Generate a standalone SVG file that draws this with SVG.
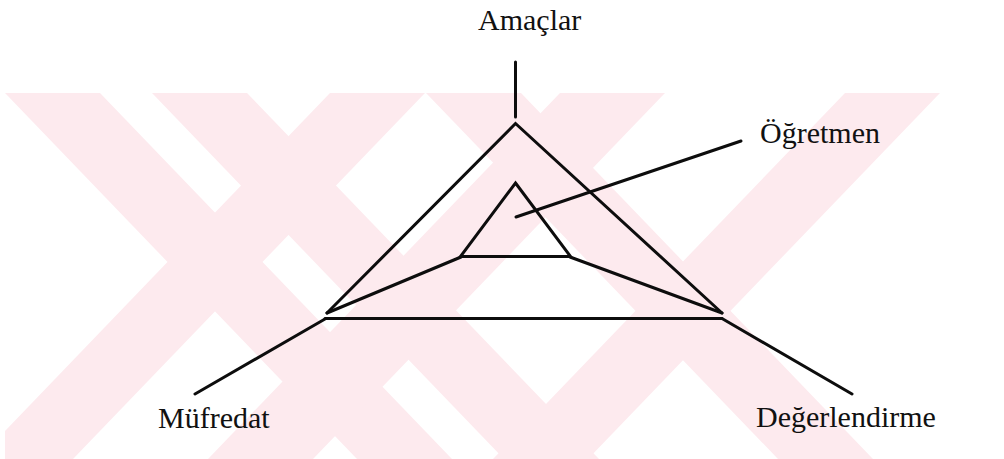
<svg xmlns="http://www.w3.org/2000/svg" width="1004" height="459" viewBox="0 0 1004 459">
  <style>
    .lbl { font-family: "Liberation Serif", "Times New Roman", serif; font-size: 30px; fill: #111; }
    .ln { stroke: #0d0d0d; stroke-width: 3; fill: none; stroke-linecap: round; stroke-linejoin: miter; }
    .wm { fill: #fdeaee; }
  </style>
  <defs>
    <clipPath id="wmclip"><rect x="5" y="93" width="995" height="366"/></clipPath>
  </defs>
  <rect width="1004" height="459" fill="#ffffff"/>
  <g id="watermark" clip-path="url(#wmclip)">
    <polygon class="wm" points="5,93 100,93 452,459 357,459"/>
    <polygon class="wm" points="152,93 247,93 599,459 504,459"/>
    <polygon class="wm" points="426,93 521,93 873,459 778,459"/>
    <polygon class="wm" points="560,93 665,93 313,459 208,459"/>
    <polygon class="wm" points="845,93 940,93 588,459 493,459"/>
    <polygon class="wm" points="330,93 425,93 73,459 -22,459"/>
  </g>
  <g id="connectors">
    <line class="ln" x1="515.5" y1="62" x2="515.5" y2="117"/>
    <line class="ln" x1="741" y1="141" x2="516" y2="217"/>
    <line class="ln" x1="325" y1="319" x2="195" y2="394"/>
    <line class="ln" x1="722" y1="318.5" x2="852" y2="394"/>
    <line class="ln" x1="461" y1="257" x2="327" y2="313"/>
    <line class="ln" x1="570" y1="257" x2="722" y2="313"/>
  </g>
  <g id="outer-triangle">
    <polyline class="ln" points="327,313 515.5,123.5 722,313"/>
    <line class="ln" x1="325" y1="318.5" x2="722" y2="318.5"/>
  </g>
  <g id="inner-triangle">
    <polygon class="ln" points="515.5,183 570.5,256.5 460.5,256.5"/>
  </g>
  <g id="node-amaclar"><text class="lbl" x="478" y="30">Amaçlar</text></g>
  <g id="node-ogretmen"><text class="lbl" x="760" y="143">Öğretmen</text></g>
  <g id="node-mufredat"><text class="lbl" x="158" y="428">Müfredat</text></g>
  <g id="node-degerlendirme"><text class="lbl" x="756" y="427">Değerlendirme</text></g>
</svg>
